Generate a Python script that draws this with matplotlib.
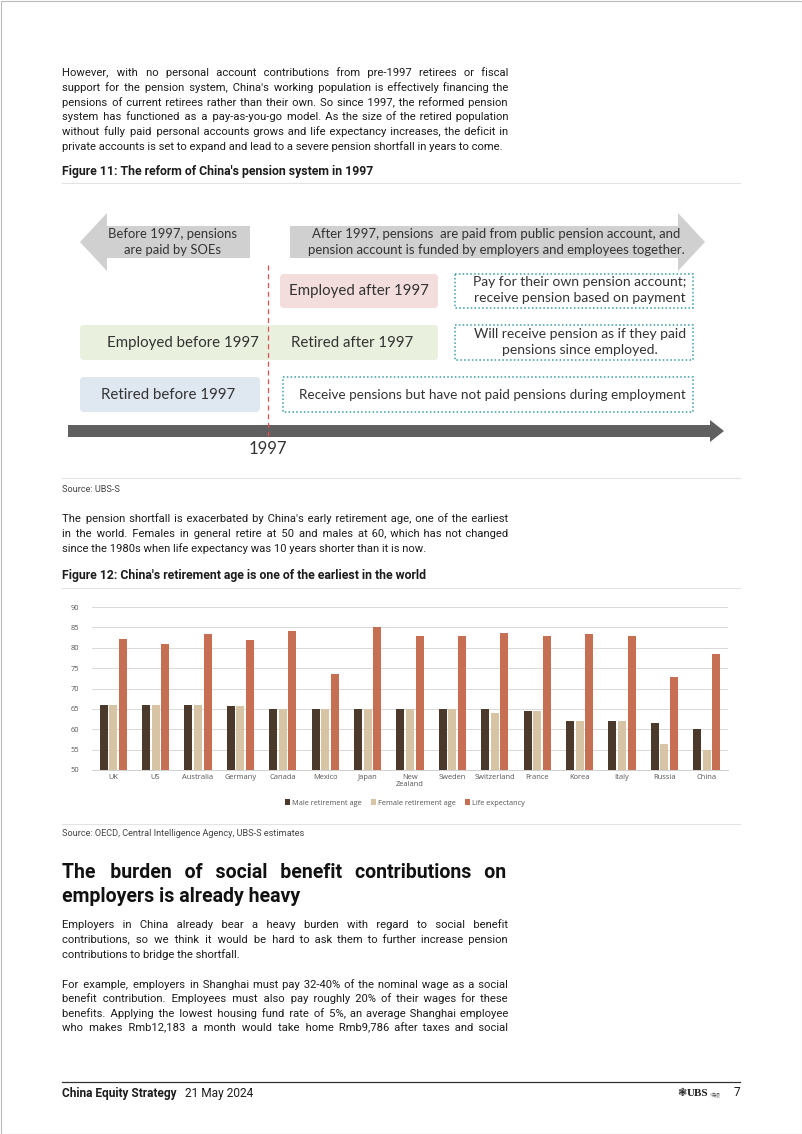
import numpy as np
import matplotlib
matplotlib.use("Agg")
import matplotlib.pyplot as plt
from matplotlib.patches import Rectangle, FancyBboxPatch, Polygon

# ---- data for Figure 12 ----
countries = ["UK", "US", "Australia", "Germany", "Canada", "Mexico", "Japan",
             "New\nZealand", "Sweden", "Switzerland", "France", "Korea",
             "Italy", "Russia", "China"]
male_age = [66, 66, 66, 65.8, 65, 65, 65, 65, 65, 65, 64.5, 62, 62, 61.5, 60]
female_age = [66, 66, 66, 65.8, 65, 65, 65, 65, 65, 64, 64.5, 62, 62, 56.5, 55]
life_exp = [82.2, 81, 83.3, 81.8, 84, 73.5, 85.1, 82.9, 82.9, 83.6, 82.9,
            83.3, 82.9, 72.8, 78.4]
series_names = ["Male retirement age", "Female retirement age", "Life expectancy"]
y_ticks = [50, 55, 60, 65, 70, 75, 80, 85, 90]

W, H = 802, 1134
BODY = ["Roboto", "DejaVu Sans"]
DIAG = "Lato"
TXT = "#1c1c1c"
HAIR = "\u200a"

fig = plt.figure(figsize=(W / 100, H / 100), dpi=100)
page = fig.add_axes([0, 0, 1, 1])
page.set_xlim(0, W)
page.set_ylim(H, 0)
page.axis("off")
fig.canvas.draw()
rend = fig.canvas.get_renderer()


def text_w(s, size, weight="normal"):
    t = page.text(0, 0, s, fontsize=size, family=BODY, weight=weight)
    w = t.get_window_extent(rend).width
    t.remove()
    return w


# body size picked so the fullest unjustified line spans the column as in the report
probe = "private accounts is set to expand and lead to a severe pension shortfall in years to come."
BSIZE = 8.0 * 445 / text_w(probe, 8.0)


def justify(line, size, weight, target):
    # pad the word gaps with hair spaces so the line fills the column width
    words = line.split()
    nat = text_w(line, size, weight)
    hw = (text_w("x" + HAIR * 10 + "x", size, weight) - text_w("xx", size, weight)) / 10
    if hw <= 0.05 or len(words) < 2:
        return line
    m = max(0, int(round((target - nat) / hw)))
    q, r = divmod(m, len(words) - 1)
    out = words[0]
    for i, w in enumerate(words[1:]):
        out += " " + HAIR * (q + (1 if i < r else 0)) + w
    return out


def put_par(lines, x0, y, size=None, step=14.6, x1=508, weight="normal", color=TXT,
            last_just=False, drop=3.5):
    # y is the middle of the first line
    size = size or BSIZE
    for i, line in enumerate(lines):
        if i < len(lines) - 1 or last_just:
            line = justify(line, size, weight, x1 - x0)
        page.text(x0, y + i * step + drop, line, fontsize=size, family=BODY, weight=weight,
                  color=color, va="baseline")


def rule(y, color="#e3e3e3", lw=0.8):
    page.plot([62, 740], [y, y], color=color, lw=lw)


# page frame
page.add_patch(Rectangle((0.5, 0.5), W - 1, H - 1, fill=False, ec="#bbbbbb", lw=0.8))

# ---- top paragraph ----
put_par([
    "However, with no personal account contributions from pre-1997 retirees or fiscal",
    "support for the pension system, China's working population is effectively financing the",
    "pensions of current retirees rather than their own. So since 1997, the reformed pension",
    "system has functioned as a pay-as-you-go model. As the size of the retired population",
    "without fully paid personal accounts grows and life expectancy increases, the deficit in",
    "private accounts is set to expand and lead to a severe pension shortfall in years to come.",
], 62, 73)

FIG_T = 8.0 * 314 / text_w("Figure 11: The reform of China's pension system in 1997", 8.0, "bold")
page.text(62, 172, "Figure 11: The reform of China's pension system in 1997", fontsize=FIG_T,
          family=BODY, weight="bold", color=TXT, va="center")
rule(183)

# ---- Figure 11 diagram ----
grey = "#d0d0d0"
page.add_patch(Polygon([(80, 242), (107, 213), (107, 226), (250, 226), (250, 258),
                        (107, 258), (107, 271)], closed=True, fc=grey, ec="none"))
page.add_patch(Polygon([(290, 226), (678, 226), (678, 213), (705, 242), (678, 271),
                        (678, 258), (290, 258)], closed=True, fc=grey, ec="none"))
page.text(173, 242, "Before 1997, pensions\nare paid by SOEs", fontsize=9.4, family=DIAG,
          color="#333333", ha="center", va="center", linespacing=1.3)
page.text(496, 242, "After 1997, pensions  are paid from public pension account, and\n"
          "pension account is funded by employers and employees together.",
          fontsize=9.45, family=DIAG, color="#333333", ha="center", va="center", linespacing=1.3)

page.plot([268, 268], [265, 440], color="#d9534f", lw=0.9, ls=(0, (4, 3)))


def soft_box(x, y, w, h, fc):
    page.add_patch(FancyBboxPatch((x, y), w, h, boxstyle="round,pad=0,rounding_size=4",
                                  fc=fc, ec="none"))


def dot_box(x, y, w, h):
    page.add_patch(Rectangle((x, y), w, h, fill=False, ec="#3a9ca3", lw=1.1, ls=(0, (1, 1.5))))


soft_box(280, 274, 158, 34, "#f3dddd")
soft_box(80, 325, 358, 35, "#e9f0de")
soft_box(80, 377, 180, 35, "#dfe7f1")
dot_box(455, 274, 238, 34)
dot_box(455, 325, 238, 35)
dot_box(283, 377, 410, 35)

bt = dict(fontsize=10.8, family=DIAG, color="#333333", ha="center", va="center")
page.text(359, 291, "Employed after 1997", **bt)
page.text(183, 343, "Employed before 1997", **bt)
page.text(352, 343, "Retired after 1997", **bt)
page.text(168, 395, "Retired before 1997", **bt)
st = dict(fontsize=10, family=DIAG, color="#333333", ha="center", va="center", linespacing=1.4)
page.text(580, 290, "Pay for their own pension account;\nreceive pension based on payment", **st)
page.text(580, 342, "Will receive pension as if they paid\npensions since employed.", **st)
page.text(492, 395, "Receive pensions but have not paid pensions during employment",
          **dict(st, fontsize=9.7))

page.add_patch(Polygon([(68, 425), (710, 425), (710, 420), (724, 431), (710, 442),
                        (710, 437), (68, 437)], closed=True, fc="#606060", ec="none"))
page.text(268, 449, "1997", fontsize=12, family=DIAG, color="#333333", ha="center", va="center")

rule(478)
SRC = 6.0 * 58 / text_w("Source: UBS-S", 6.0)
page.text(62, 489, "Source: UBS-S", fontsize=SRC, family=BODY, color="#444444", va="center")

put_par([
    "The pension shortfall is exacerbated by China's early retirement age, one of the earliest",
    "in the world. Females in general retire at 50 and males at 60, which has not changed",
    "since the 1980s when life expectancy was 10 years shorter than it is now.",
], 62, 519)

page.text(62, 575, "Figure 12: China's retirement age is one of the earliest in the world",
          fontsize=FIG_T, family=BODY, weight="bold", color=TXT, va="center")
rule(588)

# ---- Figure 12 bar chart ----
ax = fig.add_axes([92 / W, 1 - 770 / H, (728 - 92) / W, (770 - 607) / H])
x = np.arange(len(countries))
bw, off = 0.19, 0.228
b1 = ax.bar(x - off, male_age, bw, color="#4b3a2c", zorder=3)
b2 = ax.bar(x, female_age, bw, color="#d6c4a4", zorder=3)
b3 = ax.bar(x + off, life_exp, bw, color="#c66f52", zorder=3)
ax.set_ylim(50, 90)
ax.set_xlim(-0.5, len(countries) - 0.5)
ax.set_yticks(y_ticks)
ax.set_xticks(x)
ax.set_xticklabels(countries, fontsize=5.4, family="Open Sans", color="#555555", linespacing=1.0)
ax.tick_params(axis="y", labelsize=5.4, colors="#555555", length=0, pad=9)
ax.tick_params(axis="x", length=0, pad=3)
for lab in ax.get_yticklabels():
    lab.set_family("Open Sans")
ax.grid(axis="y", color="#d9d9d9", lw=0.7, zorder=0)
for s in ["top", "right", "left"]:
    ax.spines[s].set_visible(False)
ax.spines["bottom"].set_color("#d0d0d0")
ax.spines["bottom"].set_linewidth(0.7)
fig.legend([b1, b2, b3], series_names, loc="center", bbox_to_anchor=(405 / W, 1 - 803 / H),
           ncol=3, frameon=False, prop={"family": "Open Sans", "size": 5.3},
           handlelength=0.7, handleheight=0.7, handletextpad=0.3, columnspacing=1.2,
           labelcolor="#555555")

rule(824)
page.text(62, 834, "Source: OECD, Central Intelligence Agency, UBS-S estimates", fontsize=SRC,
          family=BODY, color="#444444", va="center")

# ---- heading + closing paragraphs ----
HEAD = 13.0 * 238 / text_w("employers is already heavy", 13.0, "bold")
put_par(["The burden of social benefit contributions on", "employers is already heavy"],
        62, 872, size=HEAD, step=25, x1=507, weight="bold", color="#111111", drop=5.5)

put_par([
    "Employers in China already bear a heavy burden with regard to social benefit",
    "contributions, so we think it would be hard to ask them to further increase pension",
    "contributions to bridge the shortfall.",
], 62, 925)

put_par([
    "For example, employers in Shanghai must pay 32-40% of the nominal wage as a social",
    "benefit contribution. Employees must also pay roughly 20% of their wages for these",
    "benefits. Applying the lowest housing fund rate of 5%, an average Shanghai employee",
    "who makes Rmb12,183 a month would take home Rmb9,786 after taxes and social",
], 62, 984, last_just=True)

# ---- footer ----
FOOT = 8.0 * 116 / text_w("China Equity Strategy", 8.0, "bold")
page.plot([62, 740], [1082, 1082], color="#333333", lw=0.9)
page.text(62, 1093, "China Equity Strategy", fontsize=FOOT, family=BODY, weight="bold",
          color=TXT, va="center")
page.text(185, 1093, "21 May 2024", fontsize=FOOT, family=BODY, color=TXT, va="center")
page.text(686, 1093, "\u2743", fontsize=8, family="DejaVu Sans", color=TXT, ha="right", va="center")
page.text(687, 1093, "UBS", fontsize=8, family="Liberation Serif", weight="bold",
          color=TXT, va="center")
page.text(710, 1094, "瑞银", fontsize=4, family=["Noto Sans CJK SC", "DejaVu Sans"],
          color="#666666", va="center")
page.text(740, 1093, "7", fontsize=FOOT, family=BODY, color=TXT, ha="right", va="center")

fig.savefig("out.png", dpi=100)
